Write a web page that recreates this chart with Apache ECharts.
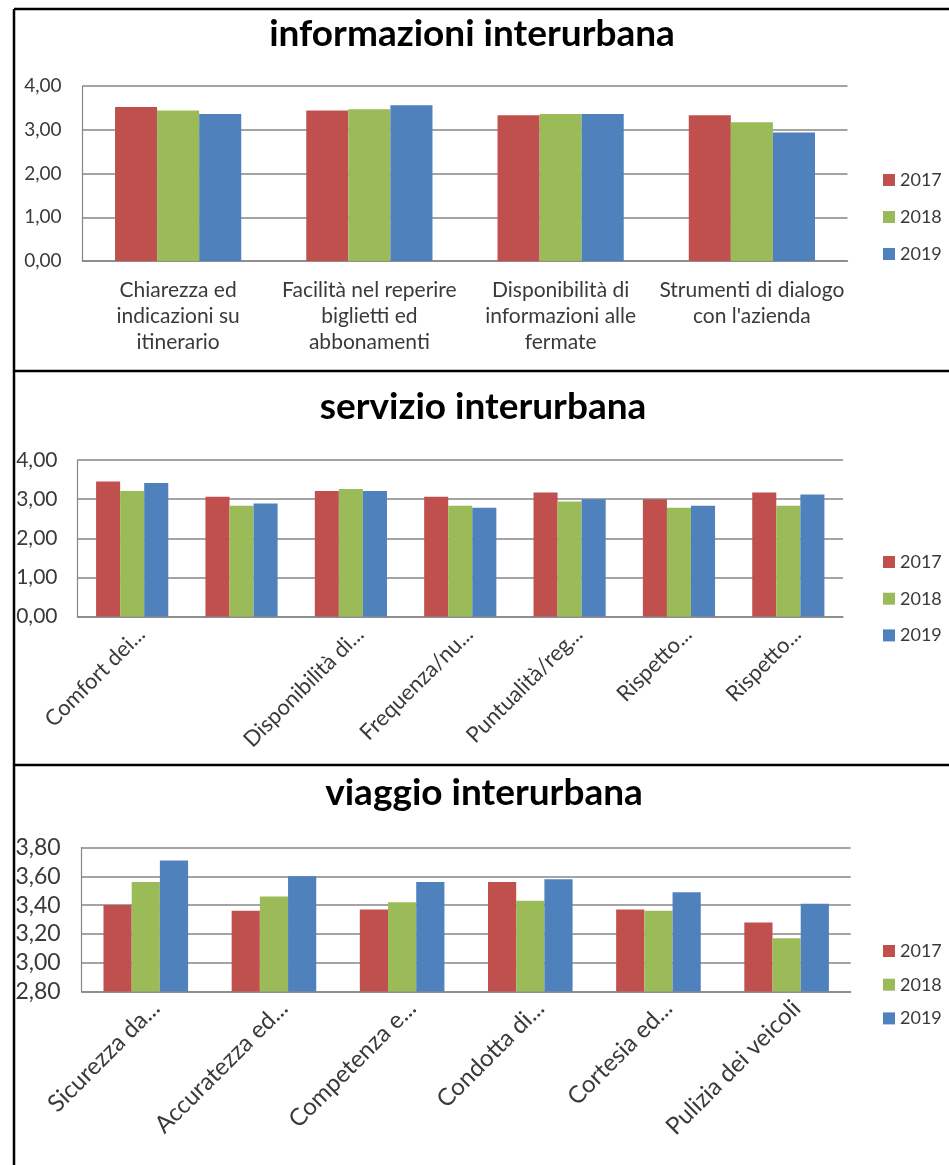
<!DOCTYPE html>
<html>
<head>
<meta charset="utf-8">
<title>interurbana</title>
<script src="https://cdn.jsdelivr.net/npm/echarts@6/dist/echarts.min.js"></script>
<style>
  html, body { margin:0; padding:0; background:#fff; }
  #main { width:949px; height:1165px; }
</style>
</head>
<body>
<div id="main"></div>
<script>
// data
var years = ['2017', '2018', '2019'];
var yearColors = ['#C0504D', '#9BBB59', '#4F81BD'];

var infoCats = ['Chiarezza ed\nindicazioni su\nitinerario', 'Facilità nel reperire\nbiglietti ed\nabbonamenti',
  'Disponibilità di\ninformazioni alle\nfermate', "Strumenti di dialogo\ncon l'azienda"];
var info2017 = [3.52, 3.44, 3.33, 3.33];
var info2018 = [3.44, 3.47, 3.36, 3.17];
var info2019 = [3.36, 3.56, 3.36, 2.94];

var servCats = ['Comfort dei...', '', 'Disponibilità di...', 'Frequenza/nu...', 'Puntualità/reg...', 'Rispetto...', 'Rispetto...'];
var serv2017 = [3.45, 3.06, 3.21, 3.06, 3.17, 3.00, 3.17];
var serv2018 = [3.21, 2.83, 3.26, 2.83, 2.94, 2.78, 2.83];
var serv2019 = [3.41, 2.89, 3.21, 2.78, 3.00, 2.83, 3.12];

var viagCats = ['Sicurezza da...', 'Accuratezza ed...', 'Competenza e...', 'Condotta di...', 'Cortesia ed...', 'Pulizia dei veicoli'];
var viag2017 = [3.40, 3.36, 3.37, 3.56, 3.37, 3.28];
var viag2018 = [3.56, 3.46, 3.42, 3.43, 3.36, 3.17];
var viag2019 = [3.71, 3.60, 3.56, 3.58, 3.49, 3.41];

var titles = ['informazioni interurbana', 'servizio interurbana', 'viaggio interurbana'];

var FONT = 'Lato, "Open Sans", sans-serif';
var TXT = '#3a3a3a';
var GRID_COL = '#868686';

function fmt(v){
  return v.toFixed(2).replace('.', ',');
}

var chart = echarts.init(document.getElementById('main'));

//panel boxes (pixel layout)
var grids = [
  {left:82.5, top:86, width:765, height:175},
  {left:77.5, top:460, width:765.5, height:156.5},
  {left:81.7, top:847.5, width:769, height:144}
];
var titleY = [16, 389, 775];
var titleX = [472, 483, 484];
var legendTop = [171, 553, 942];
var legendGap = [19, 18.7, 15.7];
// the pasted panels are not all at the same zoom, so text differs a bit
var yFont = [19, 21, 23];
var yMargin = [21, 20, 21];
var xFont = [21, 22, 24];
var xMargin = [16, 5, 3];

var yAxes = [
  {min:0, max:4, interval:1},
  {min:0, max:4, interval:1},
  {min:2.8, max:3.8, interval:0.2}
];

var cats = [infoCats, servCats, viagCats];
var vals = [
  [info2017, info2018, info2019],
  [serv2017, serv2018, serv2019],
  [viag2017, viag2018, viag2019]
];

var option = {
  backgroundColor:'#fff',
  animation:false,
  title:[], legend:[], grid:[], xAxis:[], yAxis:[], series:[],
  graphic:[]
};

for (var p = 0; p < 3; p++) {
  option.title.push({
    text:titles[p], left:titleX[p], top:titleY[p], textAlign:'center', padding:0,
    textStyle:{fontFamily:FONT, fontWeight:'bold', fontSize:37, color:'#000'}
  });
  option.grid.push(grids[p]);
  option.legend.push({
    data:years, orient:'vertical', left:883, top:legendTop[p], padding:0,
    itemWidth:12, itemHeight:12, itemGap:legendGap[p], icon:'rect',
    textStyle:{fontFamily:FONT, fontSize:18, color:TXT, lineHeight:18}
  });
  var lbl = {
    interval:0, fontFamily:FONT, fontSize:xFont[p], color:TXT,
    lineHeight:26, margin:xMargin[p]
  };
  if (p > 0) {
    // slanted labels hang from their top right corner, like excel does
    lbl.rotate = 45;
    lbl.align = 'right';
    lbl.verticalAlign = 'top';
    lbl.lineHeight = xFont[p] + 4;
  }
  option.xAxis.push({
    type:'category', gridIndex:p, data:cats[p],
    axisLine:{lineStyle:{color:GRID_COL, width:1.5}},
    axisTick:{show:false},
    axisLabel:lbl
  });
  option.yAxis.push({
    type:'value', gridIndex:p,
    min:yAxes[p].min, max:yAxes[p].max, interval:yAxes[p].interval,
    axisLine:{show:true, lineStyle:{color:GRID_COL, width:1.2}},
    axisTick:{show:false},
    splitLine:{lineStyle:{color:GRID_COL, width:1.5}},
    axisLabel:{formatter:fmt, fontFamily:FONT, fontSize:yFont[p], color:TXT, margin:yMargin[p]}
  });
  for (var s = 0; s < 3; s++) {
    option.series.push({
      name:years[s], type:'bar', xAxisIndex:p, yAxisIndex:p,
      data:vals[p][s], barGap:'0%', barCategoryGap:'34%',
      itemStyle:{color:yearColors[s]}
    });
  }
}

// black frame round the three charts
var lines = [
  [14, 9, 949, 9],
  [14, 371, 949, 371],
  [14, 765, 949, 765],
  [14, 9, 14, 1165]
];
lines.forEach(function(l){
  option.graphic.push({
    type:'line', shape:{x1:l[0], y1:l[1], x2:l[2], y2:l[3]},
    style:{stroke:'#000', lineWidth:2.5}, z:100
  });
});

chart.setOption(option);
</script>
</body>
</html>
